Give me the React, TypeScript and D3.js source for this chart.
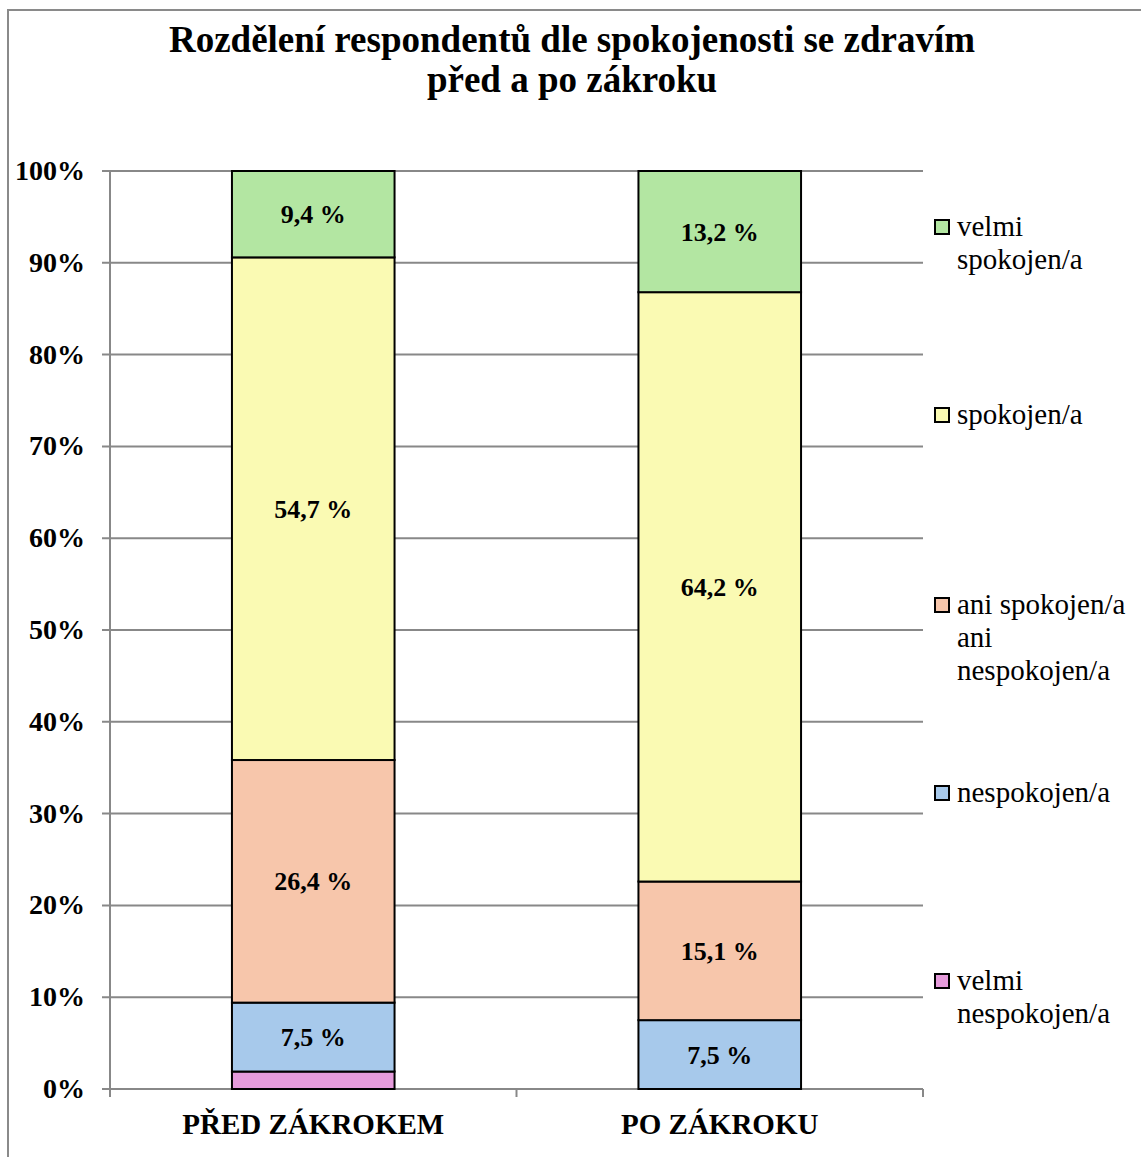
import React, { useEffect, useRef } from "react";
import * as d3 from "d3";

const categories = ["PŘED ZÁKROKEM", "PO ZÁKROKU"];
const seriesNames = [
  "velmi nespokojen/a",
  "nespokojen/a",
  "ani spokojen/a ani nespokojen/a",
  "spokojen/a",
  "velmi spokojen/a",
];
const velmiNespokojen = [1.9, 0];
const nespokojen = [7.5, 7.5];
const aniAni = [26.4, 15.1];
const spokojen = [54.7, 64.2];
const velmiSpokojen = [9.4, 13.2];
const showLabel = [false, true, true, true, true];
const colors = ["#E59BDB", "#A7C9EB", "#F7C6AB", "#FAFAB3", "#B3E6A2"];
const yTicks = [0, 10, 20, 30, 40, 50, 60, 70, 80, 90, 100];
const legendLines = [
  ["velmi", "spokojen/a"],
  ["spokojen/a"],
  ["ani spokojen/a", "ani", "nespokojen/a"],
  ["nespokojen/a"],
  ["velmi", "nespokojen/a"],
];
const titleLines = [
  "Rozdělení respondentů dle spokojenosti se zdravím",
  "před a po zákroku",
];

const FONT = "'Liberation Serif', 'Times New Roman', serif";

export default function App() {
  const ref = useRef<SVGSVGElement>(null);

  useEffect(() => {
    const svg = d3.select(ref.current);
    svg.selectAll("*").remove();

    const left = 110, right = 923, top = 171, bottom = 1089;
    const seriesValues = [velmiNespokojen, nespokojen, aniAni, spokojen, velmiSpokojen];
    const rows = categories.map((c, i) => {
      const r: any = { cat: c };
      seriesNames.forEach((s, k) => (r[s] = seriesValues[k][i]));
      return r;
    });

    const x = d3.scaleBand().domain(categories).range([left, right]).paddingInner(0.6).paddingOuter(0.3);
    const y = d3.scaleLinear().domain([0, 1]).range([bottom, top]);
    const stack = d3.stack().keys(seriesNames).offset(d3.stackOffsetExpand);
    const stacked = stack(rows as any);

    // outer frame
    svg.append("rect").attr("x", 8).attr("y", 10).attr("width", 1300).attr("height", 1300)
      .attr("fill", "white").attr("stroke", "#8a8a8a").attr("stroke-width", 2);

    // title
    svg.append("g").selectAll("text").data(titleLines).join("text")
      .attr("x", 572).attr("y", (d, i) => 52 + i * 40)
      .attr("text-anchor", "middle").attr("font-family", FONT)
      .attr("font-weight", "bold").attr("font-size", 37).text((d) => d);

    // gridlines
    const grid = svg.append("g");
    grid.selectAll("line").data(yTicks).join("line")
      .attr("x1", left - 8).attr("x2", right)
      .attr("y1", (d) => y(d / 100)).attr("y2", (d) => y(d / 100))
      .attr("stroke", "#888").attr("stroke-width", 2);
    // y axis line
    svg.append("line").attr("x1", left).attr("x2", left).attr("y1", top).attr("y2", bottom + 8)
      .attr("stroke", "#888").attr("stroke-width", 2);
    // category ticks
    const catTicks = [left, (left + right) / 2, right];
    svg.append("g").selectAll("line").data(catTicks).join("line")
      .attr("x1", (d) => d).attr("x2", (d) => d).attr("y1", bottom).attr("y2", bottom + 8)
      .attr("stroke", "#888").attr("stroke-width", 2);

    // y tick labels
    svg.append("g").selectAll("text").data(yTicks).join("text")
      .attr("x", 85).attr("y", (d) => y(d / 100) + 9)
      .attr("text-anchor", "end").attr("font-family", FONT).attr("font-weight", "bold")
      .attr("font-size", 28).text((d) => d + "%");

    // bars
    stacked.forEach((layer: any, k: number) => {
      const g = svg.append("g");
      g.selectAll("rect").data(layer.filter((d: any) => d[1] - d[0] > 0)).join("rect")
        .attr("x", (d: any) => x(d.data.cat)!)
        .attr("width", x.bandwidth())
        .attr("y", (d: any) => y(d[1]))
        .attr("height", (d: any) => y(d[0]) - y(d[1]))
        .attr("fill", colors[k]).attr("stroke", "#000").attr("stroke-width", 2);
    });
    // labels
    stacked.forEach((layer: any, k: number) => {
      if (!showLabel[k]) return;
      const g = svg.append("g");
      g.selectAll("text").data(layer.filter((d: any) => d[1] - d[0] > 0)).join("text")
        .attr("x", (d: any) => x(d.data.cat)! + x.bandwidth() / 2)
        .attr("y", (d: any) => y((d[0] + d[1]) / 2) + 9)
        .attr("text-anchor", "middle").attr("font-family", FONT).attr("font-weight", "bold")
        .attr("font-size", 26)
        .text((d: any) => d3.format(".1f")(d.data[seriesNames[k]]).replace(".", ",") + " %");
    });

    // category labels
    svg.append("g").selectAll("text").data(categories).join("text")
      .attr("x", (d) => x(d)! + x.bandwidth() / 2).attr("y", 1134)
      .attr("text-anchor", "middle").attr("font-family", FONT).attr("font-weight", "bold")
      .attr("font-size", 29).text((d) => d);

    // legend (top to bottom: reverse order)
    const legendBottoms = [234, 422, 612, 800, 988];
    const legendOrder = [4, 3, 2, 1, 0];
    legendOrder.forEach((k, i) => {
      const lg = svg.append("g");
      const b = legendBottoms[i];
      lg.append("rect").attr("x", 935).attr("y", b - 14).attr("width", 14).attr("height", 14)
        .attr("fill", colors[k]).attr("stroke", "#000").attr("stroke-width", 2);
      lg.selectAll("text").data(legendLines[i]).join("text")
        .attr("x", 957).attr("y", (d, j) => b + 2 + j * 33)
        .attr("font-family", FONT).attr("font-size", 29).text((d) => d);
    });
  }, []);

  return (
    <svg ref={ref} width={1141} height={1157}
      style={{ position: "absolute", left: 0, top: 0, display: "block", background: "white" }} />
  );
}
